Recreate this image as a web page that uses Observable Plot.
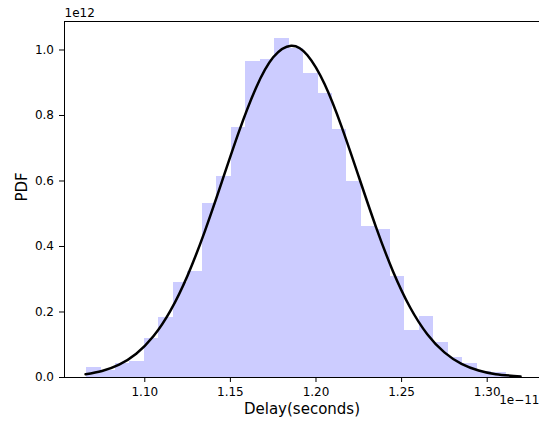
<!DOCTYPE html>
<html>
<head>
<meta charset="utf-8">
<script src="https://cdn.jsdelivr.net/npm/d3@7"></script>
<script src="https://cdn.jsdelivr.net/npm/@observablehq/plot@0.6"></script>
<style>
  html, body { margin: 0; padding: 0; background: white; }
  #chart { width: 539px; height: 421px; }
</style>
</head>
<body>
<div id="chart"></div>
<script>
// Histogram bin edges (units of 1e-11 s)
const binEdges = [1.0660, 1.07445, 1.0829, 1.09135, 1.0998, 1.10825, 1.1167, 1.12515, 1.1336, 1.14205,
  1.1505, 1.15895, 1.1674, 1.17585, 1.1843, 1.19275, 1.2012, 1.20965, 1.2181, 1.22655,
  1.235, 1.24345, 1.2519, 1.26035, 1.2688, 1.27725, 1.2857, 1.29415, 1.3026, 1.31105, 1.3195];
// Histogram densities (units of 1e12)
const binDensity = [0.032, 0.021, 0.042, 0.049, 0.120, 0.182, 0.289, 0.325, 0.530, 0.615,
  0.764, 0.966, 0.970, 1.034, 1.005, 0.927, 0.868, 0.757, 0.598, 0.461,
  0.452, 0.309, 0.144, 0.186, 0.108, 0.060, 0.042, 0.019, 0.014, 0.006];
// Fitted PDF curve
const curveX = [1.0654, 1.075, 1.085, 1.095, 1.105, 1.115, 1.125, 1.135, 1.145, 1.155, 1.165, 1.175, 1.1855,
  1.195, 1.205, 1.215, 1.225, 1.235, 1.245, 1.255, 1.265, 1.275, 1.285, 1.295, 1.305, 1.3195];
const curveY = [0.0097, 0.0198, 0.0392, 0.0724, 0.1257, 0.2043, 0.3116, 0.4456, 0.5973, 0.7507, 0.8848, 0.9777, 1.013,
  0.9840, 0.8962, 0.7654, 0.6129, 0.4601, 0.3239, 0.2138, 0.1323, 0.0768, 0.0418, 0.0213, 0.0102, 0.0031];
// Axis ticks
const xTicks = [1.10, 1.15, 1.20, 1.25, 1.30];
const yTicks = [0.0, 0.2, 0.4, 0.6, 0.8, 1.0];
const xDomain = [1.0531, 1.33055];
const yDomain = [0, 1.087];
const xLabel = "Delay(seconds)";
const yLabel = "PDF";
const xOffsetText = "1e\u221211";
const yOffsetText = "1e12";

const bins = binDensity.map((d, i) => ({x1: binEdges[i], x2: binEdges[i + 1], y: d}));
const curve = curveX.map((x, i) => ({x, y: curveY[i]}));

const chart = Plot.plot({
  width: 539,
  height: 421,
  marginLeft: 64,
  marginRight: 0,
  marginTop: 21,
  marginBottom: 44,
  style: {fontFamily: "'DejaVu Sans', sans-serif", fontSize: "12px", color: "black", background: "white"},
  x: {domain: xDomain},
  y: {domain: yDomain},
  marks: [
    Plot.rectY(bins, {x1: "x1", x2: "x2", y: "y", fill: "#ccccff", shapeRendering: "crispEdges"}),
    Plot.line(curve, {x: "x", y: "y", stroke: "black", strokeWidth: 2.5, curve: "natural"}),
    Plot.ruleY([yDomain[0], yDomain[1]], {stroke: "black", strokeWidth: 1}),
    Plot.ruleX([xDomain[0]], {stroke: "black", strokeWidth: 1}),
    Plot.axisX({ticks: xTicks, tickFormat: d3.format(".2f"), tickSize: 5, tickPadding: 5, label: null, fontSize: 12}),
    Plot.axisY({ticks: yTicks, tickFormat: d3.format(".1f"), tickSize: 5, tickPadding: 5.5, label: null, fontSize: 12}),
    Plot.text([xLabel], {frameAnchor: "bottom", lineAnchor: "middle", dy: 32, fontSize: 15, text: d => d}),
    Plot.text([yLabel], {frameAnchor: "left", lineAnchor: "middle", dx: -42, dy: 2, rotate: -90, fontSize: 15, text: d => d}),
    Plot.text([yOffsetText], {x: xDomain[0], y: yDomain[1], lineAnchor: "middle", dy: -8, textAnchor: "start", fontSize: 12, text: d => d}),
    Plot.text([xOffsetText], {x: xDomain[1], y: 0, lineAnchor: "middle", dy: 23, textAnchor: "end", fontSize: 12, text: d => d})
  ]
});
document.getElementById("chart").appendChild(chart);
</script>
</body>
</html>
